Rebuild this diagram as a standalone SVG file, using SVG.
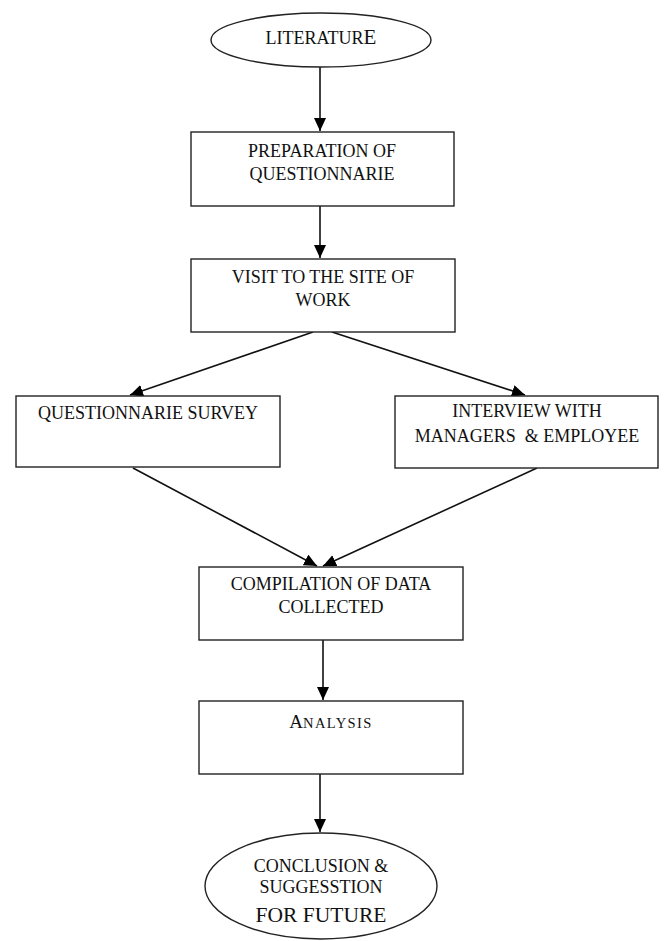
<svg xmlns="http://www.w3.org/2000/svg" width="665" height="941" viewBox="0 0 665 941">
<style>
.shape{fill:#fff;stroke:#222;stroke-width:1.4}
.t{font-family:"Liberation Serif","Times New Roman",serif;font-size:18px;fill:#111;text-anchor:middle}
.c{stroke:#111;stroke-width:1.6;fill:none;marker-end:url(#ah)}
</style>
<defs>
<marker id="ah" markerUnits="userSpaceOnUse" markerWidth="14" markerHeight="12" refX="13" refY="6" orient="auto">
<path d="M0,0 L13,6 L0,12 Z" fill="#000"/>
</marker>
</defs>
<rect width="665" height="941" fill="#fff"/>
<g id="connectors">
<line class="c" x1="320" y1="67" x2="320" y2="131"/>
<line class="c" x1="320" y1="206" x2="320" y2="258"/>
<line class="c" x1="313" y1="332" x2="130" y2="395"/>
<line class="c" x1="332" y1="332" x2="525" y2="395"/>
<line class="c" x1="133" y1="468" x2="317" y2="566"/>
<line class="c" x1="537" y1="468" x2="323" y2="566"/>
<line class="c" x1="323" y1="640" x2="323" y2="700"/>
<line class="c" x1="320" y1="774" x2="320" y2="832"/>
</g>
<g id="literature">
<ellipse class="shape" cx="321" cy="40" rx="110" ry="27"/>
<text class="t" x="321" y="44">LITERATUR<tspan style="font-size:21px">E</tspan></text>
</g>
<g id="preparation">
<rect class="shape" x="191" y="132" width="263" height="74"/>
<text class="t" x="322" y="157">PREPARATION OF</text>
<text class="t" x="322" y="180">QUESTIONNARIE</text>
</g>
<g id="visit">
<rect class="shape" x="191" y="259" width="264" height="73"/>
<text class="t" x="323" y="283">VISIT TO THE SITE OF</text>
<text class="t" x="323" y="306">WORK</text>
</g>
<g id="survey">
<rect class="shape" x="16" y="396" width="264" height="71"/>
<text class="t" x="148" y="419">QUESTIONNARIE SURVEY</text>
</g>
<g id="interview">
<rect class="shape" x="395" y="396" width="263" height="72"/>
<text class="t" x="527" y="417">INTERVIEW WITH</text>
<text class="t" x="527" y="442" xml:space="preserve">MANAGERS  &amp; EMPLOYEE</text>
</g>
<g id="compilation">
<rect class="shape" x="199" y="567" width="264" height="73"/>
<text class="t" x="331" y="590">COMPILATION OF DATA</text>
<text class="t" x="331" y="613">COLLECTED</text>
</g>
<g id="analysis">
<rect class="shape" x="199" y="701" width="264" height="73"/>
<text class="t" x="331" y="728" style="font-size:19px">A<tspan style="font-size:14.5px;letter-spacing:1.4px">NALYSIS</tspan></text>
</g>
<g id="conclusion">
<ellipse class="shape" cx="321" cy="886" rx="116" ry="53"/>
<text class="t" x="321" y="872">CONCLUSION &amp;</text>
<text class="t" x="321" y="893">SUGGESSTION</text>
<text class="t" x="321" y="922" style="font-size:21.5px">FOR FUTURE</text>
</g>
</svg>
